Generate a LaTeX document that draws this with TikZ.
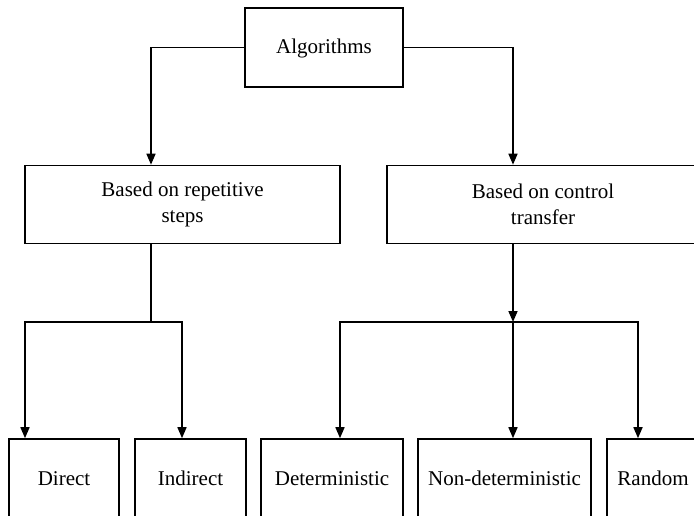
\documentclass[tikz,border=0pt]{standalone}
\usepackage{fontspec}
\setmainfont{Liberation Serif}
\usetikzlibrary{arrows.meta}
\begin{document}
\begin{tikzpicture}[x=1pt,y=-1pt,
  box/.style={draw, line width=1.6pt, inner sep=0pt, align=center, minimum height=78pt, font=\fontsize{21}{26}\selectfont},
  leaf/.style={box, text height=14.5pt, text depth=0.5pt},
  conn/.style={line width=1.6pt},
  arr/.style={conn, -{Triangle[length=11pt,width=9pt]}}]
\useasboundingbox (0,0) rectangle (694,515);
\clip (0,0) rectangle (694,515);
\node[box, minimum width=158pt, minimum height=79pt, text height=14.5pt, text depth=3pt] (alg) at (324,47.5) {Algorithms};
\node[box, minimum width=315pt] (rep) at (182.5,204.5) {Based on repetitive\\steps};
\node[box, minimum width=312pt] (ctl) at (543,204.5) {Based on control\\transfer};
\node[leaf, minimum width=110pt] (dir) at (64,478) {Direct};
\node[leaf, minimum width=111pt] (ind) at (190.5,478) {Indirect};
\node[leaf, minimum width=142pt] (det) at (332,478) {Deterministic};
\node[leaf, minimum width=173pt] (non) at (504.5,478) {Non-deterministic};
\node[leaf, minimum width=92pt] (rnd) at (653,478) {Random};
\coordinate (la) at (151,47.5);
\coordinate (ra) at (513,47.5);
\coordinate (jl) at (151,322);
\coordinate (hl1) at (25,322);
\coordinate (hl2) at (182,322);
\coordinate (jr) at (513,322);
\coordinate (hr1) at (340,322);
\coordinate (hr2) at (638,322);
\draw[arr] (alg.west) -- (la) -- (la |- rep.north);
\draw[arr] (alg.east) -- (ra) -- (ra |- ctl.north);
\draw[conn] (rep.south -| jl) -- (jl);
\draw[arr] (jl) -- (hl1) -- (hl1 |- dir.north);
\draw[arr] (jl) -- (hl2) -- (hl2 |- ind.north);
\draw[arr] (ctl.south -| jr) -- (jr);
\draw[arr] (jr) -- (hr1) -- (hr1 |- det.north);
\draw[arr] (jr) -- (jr |- non.north);
\draw[arr] (jr) -- (hr2) -- (hr2 |- rnd.north);
\end{tikzpicture}
\end{document}
